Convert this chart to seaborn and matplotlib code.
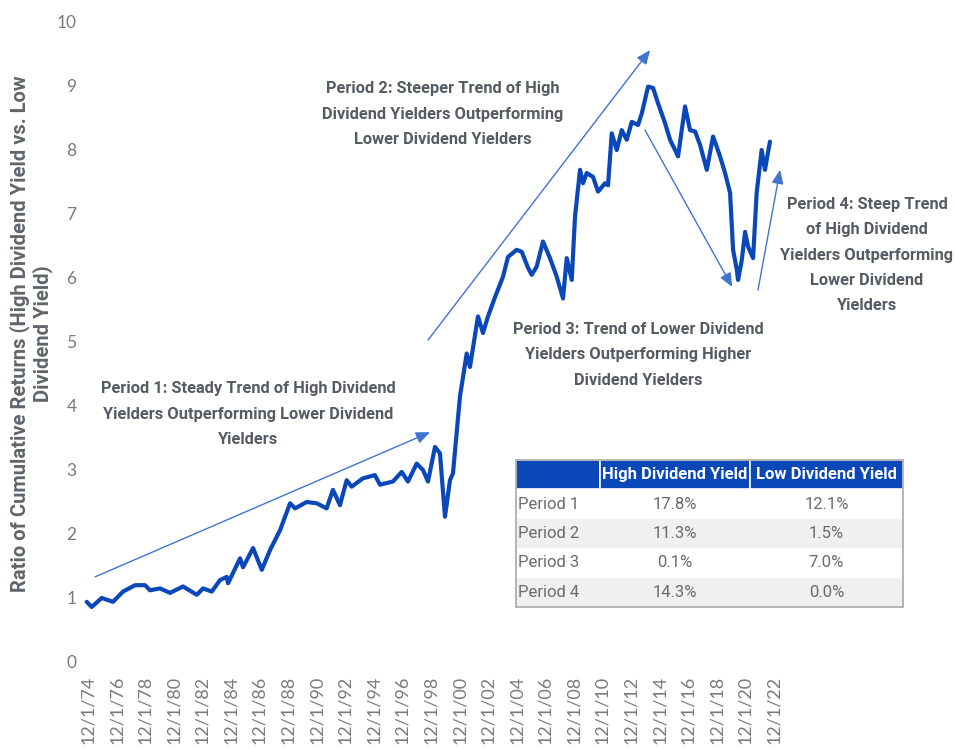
import matplotlib
matplotlib.use("Agg")
import matplotlib.pyplot as plt
import seaborn as sns
from matplotlib import font_manager
from matplotlib.patches import Rectangle

# ratio of cumulative returns (decimal years)
years = [1974.83, 1975.18, 1975.88, 1976.67, 1977.37, 1978.21, 1978.91, 1979.26, 1979.96,
         1980.66, 1981.57, 1982.53, 1982.97, 1983.58, 1984.16, 1984.63, 1984.72, 1985.56,
         1985.77, 1986.47, 1987.08, 1987.66, 1988.36, 1989.06, 1989.41, 1990.22, 1990.92,
         1991.62, 1992.06, 1992.55, 1993.02, 1993.37, 1994.16, 1995.00, 1995.35, 1996.26,
         1996.87, 1997.31, 1997.92, 1998.36, 1998.71, 1999.20, 1999.55, 1999.90, 2000.25,
         2000.46, 2000.95, 2001.42, 2001.65, 2002.21, 2002.56, 2002.91, 2003.40, 2003.96,
         2004.31, 2004.92, 2005.27, 2005.71, 2005.97, 2006.32, 2006.76, 2007.25, 2007.72,
         2008.16, 2008.42, 2008.77, 2009.00, 2009.35, 2009.56, 2009.82, 2010.26, 2010.61,
         2011.10, 2011.31, 2011.57, 2011.92, 2012.27, 2012.62, 2012.97, 2013.41, 2013.67,
         2014.11, 2014.46, 2014.81, 2015.30, 2015.65, 2016.00, 2016.21, 2016.70, 2017.05,
         2017.40, 2017.75, 2018.22, 2018.66, 2019.15, 2019.50, 2019.85, 2020.06, 2020.32,
         2020.41, 2020.67, 2020.90, 2021.11, 2021.46, 2021.71, 2022.06, 2022.29, 2022.64]
ratio = [0.94, 0.86, 1.00, 0.94, 1.10, 1.20, 1.20, 1.12, 1.15,
         1.08, 1.18, 1.05, 1.15, 1.10, 1.28, 1.33, 1.23, 1.62,
         1.48, 1.78, 1.44, 1.75, 2.06, 2.48, 2.40, 2.50, 2.48,
         2.40, 2.69, 2.45, 2.84, 2.74, 2.87, 2.92, 2.77, 2.82,
         2.97, 2.82, 3.10, 3.00, 2.82, 3.36, 3.26, 2.27, 2.84,
         2.95, 4.15, 4.82, 4.61, 5.40, 5.14, 5.40, 5.70, 6.02,
         6.33, 6.44, 6.41, 6.16, 6.05, 6.18, 6.57, 6.31, 6.02,
         5.68, 6.31, 5.97, 6.96, 7.69, 7.48, 7.64, 7.58, 7.35,
         7.48, 7.45, 8.26, 8.00, 8.31, 8.16, 8.44, 8.39, 8.57,
         8.99, 8.97, 8.73, 8.42, 8.16, 8.00, 7.90, 8.68, 8.31,
         8.29, 8.08, 7.69, 8.21, 7.90, 7.64, 7.33, 6.44, 6.13,
         5.97, 6.28, 6.72, 6.49, 6.31, 7.33, 8.00, 7.69, 8.13]

tick_years = [1974.92 + 2 * i for i in range(25)]
tick_labels = ["12/1/%02d" % ((74 + 2 * i) % 100) for i in range(25)]

# trend arrows: (start, end) in data units
arrows = [((1975.41, 1.33), (1998.85, 3.59)),
          ((1998.71, 5.03), (2014.25, 9.56)),
          ((2013.90, 8.31), (2020.00, 5.86)),
          ((2021.80, 5.81), (2023.35, 7.69))]

notes = ["Period 1: Steady Trend of High Dividend\nYielders Outperforming Lower Dividend\nYielders",
         "Period 2: Steeper Trend of High\nDividend Yielders Outperforming\nLower Dividend Yielders",
         "Period 3: Trend of Lower Dividend\nYielders Outperforming Higher\nDividend Yielders",
         "Period 4: Steep Trend\nof High Dividend\nYielders Outperforming\nLower Dividend\nYielders"]

table_cols = ["", "High Dividend Yield", "Low Dividend Yield"]
table_rows = [["Period 1", "17.8%", "12.1%"],
              ["Period 2", "11.3%", "1.5%"],
              ["Period 3", "0.1%", "7.0%"],
              ["Period 4", "14.3%", "0.0%"]]

sns.set_theme(style="white")
installed = {f.name for f in font_manager.fontManager.ttflist}
narrow = "Liberation Sans Narrow" if "Liberation Sans Narrow" in installed else "Roboto"
plt.rcParams["font.family"] = ["Lato", "DejaVu Sans"]

blue = "#0a47b8"
grey = "#555b62"

fig = plt.figure(figsize=(9.56, 7.54), dpi=100)
ax = fig.add_axes([82 / 956, 92 / 754, 858 / 956, 640 / 754])

sns.lineplot(x=years, y=ratio, ax=ax, color=blue, linewidth=3.0)

ax.set_xlim(1974.50, 2034.54)
ax.set_ylim(0, 10)
ax.set_yticks(range(0, 11))
ax.set_xticks(tick_years)
ax.set_xticklabels(tick_labels, rotation=90)
ax.tick_params(axis="both", length=0, labelcolor="#7a7a7a")
ax.tick_params(axis="x", pad=10, labelsize=13)
ax.tick_params(axis="y", pad=4, labelsize=12.5)
for s in ax.spines.values():
    s.set_visible(False)
ax.grid(False)

ax.set_ylabel("Ratio of Cumulative Returns (High Dividend Yield vs. Low\nDividend Yield)",
              fontsize=14.5, fontweight="bold", family="Roboto", color="#5f656b",
              linespacing=1.15)
ax.yaxis.set_label_coords(-0.034, 0.513)

for (x0, y0), (x1, y1) in arrows:
    ax.annotate("", xy=(x1, y1), xytext=(x0, y0),
                arrowprops=dict(arrowstyle="-|>,head_length=0.7,head_width=0.3",
                                color="#3f74d0", lw=1.0, shrinkA=0, shrinkB=0),
                annotation_clip=False)

note_pos = [(248, 414), (443, 114), (638, 355), (867, 255)]
for txt, (px, py) in zip(notes, note_pos):
    fig.text(px / 956, 1 - py / 754, txt, ha="center", va="center", fontsize=11.8,
             family=narrow, fontweight="bold", color=grey, linespacing=1.85)

# summary table
tx0, tw = (516 - 82) / 858, 387 / 858
ty0, th = (662 - 607) / 640, 147 / 640
tab = ax.table(cellText=table_rows, colLabels=table_cols,
               colWidths=[84 / 387, 150 / 387, 153 / 387],
               bbox=[tx0, ty0, tw, th], cellLoc="center")
tab.auto_set_font_size(False)
for (r, c), cell in tab.get_celld().items():
    txt = cell.get_text()
    txt.set_family(narrow)
    txt.set_fontsize(12)
    if r == 0:
        cell.set_facecolor(blue)
        cell.set_edgecolor("white")
        cell.set_linewidth(1.2)
        txt.set_color("white")
        txt.set_fontweight("bold")
    else:
        cell.set_linewidth(0)
        cell.set_facecolor("white" if r % 2 == 1 else "#f0f0f0")
        txt.set_color("#6a6a6a")
        if c == 0:
            cell.set_text_props(ha="left")
            cell.PAD = 0.02
ax.add_patch(Rectangle((tx0, ty0), tw, th, transform=ax.transAxes, fill=False,
                       edgecolor="#a8a8a8", linewidth=1.2, zorder=10, clip_on=False))

fig.savefig("out.png", dpi=100, facecolor="white")
